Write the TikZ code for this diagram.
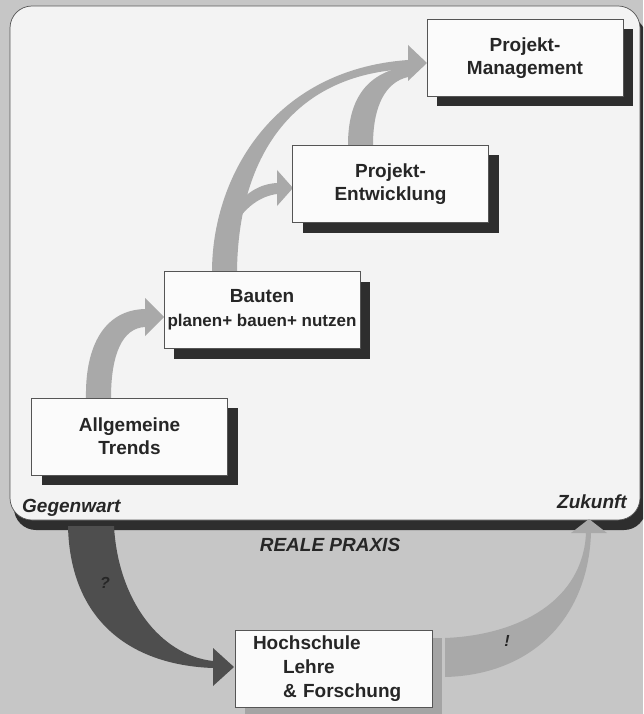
\documentclass[tikz,border=0pt]{standalone}
\usepackage{fontspec}
\setmainfont{Liberation Sans}
\usetikzlibrary{shadows}

\definecolor{pagegrey}{HTML}{C6C6C6}
\definecolor{panelfill}{HTML}{F3F3F3}
\definecolor{boxfill}{HTML}{FBFBFB}
\definecolor{edgegrey}{HTML}{555555}
\definecolor{shadowdark}{HTML}{2E2E2E}
\definecolor{shadowlight}{HTML}{A4A4A4}
\definecolor{arrowlight}{HTML}{A9A9A9}
\definecolor{arrowdark}{HTML}{4E4E4E}
\definecolor{inktext}{HTML}{262626}

\begin{document}
\begin{tikzpicture}[x=1pt, y=-1pt,
  stage/.style={draw=edgegrey, line width=0.7pt, fill=boxfill,
    minimum width=196pt, minimum height=77pt, inner sep=0pt,
    align=center, text=inktext,
    font=\fontsize{19}{23}\selectfont\bfseries,
    general shadow={fill=shadowdark, shadow xshift=10pt, shadow yshift=-10pt}},
  schoolbox/.style={stage, align=left, text width=161pt, inner xsep=18pt,
    font=\fontsize{19}{24}\selectfont\bfseries,
    general shadow={fill=shadowlight, shadow xshift=10pt, shadow yshift=-8pt}},
  tag/.style={inner sep=0pt, text=inktext,
    font=\fontsize{19}{22}\selectfont\bfseries\itshape},
  mark label/.style={inner sep=0pt, text=black!85,
    font=\fontsize{16}{18}\selectfont\bfseries\itshape}]

% page and frame
\useasboundingbox (0,0) rectangle (643,714);
\clip (0,0) rectangle (643,714);
\fill[pagegrey] (0,0) rectangle (643,714);

% panel "reale Praxis" with its dark bottom shadow
\fill[shadowdark, rounded corners=22pt] (14,16) rectangle (646,530);
\draw[edgegrey, line width=0.7pt, fill=panelfill, rounded corners=22pt]
  (10,6) rectangle (640,520);

% curved arrows inside the panel
% Allgemeine Trends -> Bauten
\fill[arrowlight] (86,398) .. controls (85,345) and (105,310) .. (145,309)
  -- (145,298) -- (164,317) -- (145,336) -- (145,327)
  .. controls (122,328) and (111,355) .. (111,398) -- cycle;
% Bauten -> Projekt-Management (long arc)
\fill[arrowlight] (212,272) .. controls (212,180) and (270,70) .. (408,60)
  -- (408,45) -- (427,63) -- (408,81) -- (408,69)
  .. controls (290,74) and (238,160) .. (237,272) -- cycle;
% branch of the long arc -> Projekt-Entwicklung
\fill[arrowlight] (228,215) .. controls (245,192) and (260,184) .. (277,183)
  -- (277,170) -- (293,188) -- (277,206) -- (277,194)
  .. controls (262,196) and (245,205) .. (230,232) -- cycle;
% Projekt-Entwicklung -> Projekt-Management
\fill[arrowlight] (348,145) .. controls (348,95) and (370,72) .. (408,66)
  -- (408,77) .. controls (386,82) and (373,105) .. (373,145) -- cycle;

% boxes
\node[stage] (pm) at (525,58) {Projekt-\\Management};
\node[stage] (pe) at (390.5,184) {Projekt-\\Entwicklung};
\node[stage] (bau) at (262,310)
  {Bauten\\[1pt]{\fontsize{17}{20}\selectfont planen+ bauen+ nutzen}};
\node[stage] (trends) at (129.5,436.5) {Allgemeine\\Trends};

% time axis labels
\node[tag, anchor=base west] (now) at (22,512) {Gegenwart};
\node[tag, anchor=base east] (future) at (627,508) {Zukunft};
\node[tag] (praxis) at (330,545) {REALE PRAXIS};

% Praxis -> Hochschule (dark arrow)
\fill[arrowdark] (68,526) .. controls (70,620) and (130,665) .. (213,668)
  -- (213,686) -- (234,667) -- (213,648) -- (213,661)
  .. controls (160,655) and (118,600) .. (114,526) -- cycle;
\node[mark label] (ask) at (105,583) {?};

% Hochschule -> Zukunft (light arrow)
\fill[arrowlight] (445,677) .. controls (530,675) and (588,620) .. (591,533)
  -- (607,533) -- (589,519) -- (571,533) -- (586,533)
  .. controls (583,600) and (520,635) .. (445,638) -- cycle;
\node[mark label] (bang) at (507,641) {!};

% university box
\node[schoolbox] (hs) at (333.5,668.5)
  {Hochschule\\\hspace*{30pt}Lehre\\\hspace*{30pt}\& Forschung};
\end{tikzpicture}
\end{document}
